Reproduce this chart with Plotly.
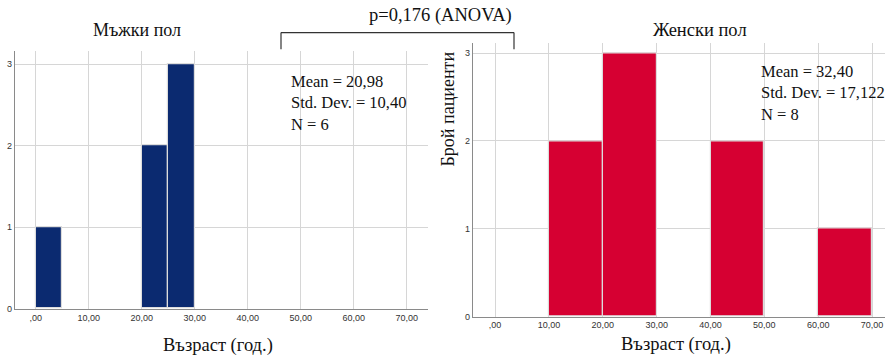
import plotly.graph_objects as go

# Age histograms by sex (bin start, bin width, counts)
male_bin_starts = [0, 20, 25]
male_bin_width = 5
male_counts = [1, 2, 3]

female_bin_starts = [10, 20, 40, 60]
female_bin_width = 10
female_counts = [2, 3, 2, 1]

x_tick_vals = [0, 10, 20, 30, 40, 50, 60, 70]
x_tick_text = [",00", "10,00", "20,00", "30,00", "40,00", "50,00", "60,00", "70,00"]
y_tick_vals = [0, 1, 2, 3]

male_stats = ["Mean = 20,98", "Std. Dev. = 10,40", "N = 6"]
female_stats = ["Mean = 32,40", "Std. Dev. = 17,122", "N = 8"]

W, H = 893, 361
NAVY = "#0b2a70"
CRIMSON = "#d60032"
SERIF = "Liberation Serif, Times New Roman, serif"
SANS = "Liberation Sans, Arial, sans-serif"


def px(x):
    return x / W


def py(y):
    return 1 - y / H


fig = go.Figure()

fig.add_trace(go.Bar(
    x=[s + male_bin_width / 2 for s in male_bin_starts],
    y=male_counts,
    width=male_bin_width,
    marker=dict(color=NAVY, line=dict(color="#dcdcdc", width=1.2)),
    xaxis="x", yaxis="y", showlegend=False,
))
fig.add_trace(go.Bar(
    x=[s + female_bin_width / 2 for s in female_bin_starts],
    y=female_counts,
    width=female_bin_width,
    marker=dict(color=CRIMSON, line=dict(color="#dcdcdc", width=1.2)),
    xaxis="x2", yaxis="y2", showlegend=False,
))

axis_common = dict(
    showgrid=True, gridcolor="#d6d6d6", gridwidth=1.2,
    showline=True, linecolor="#8a8a8a", linewidth=1.2,
    zeroline=False, ticks="", fixedrange=True,
)
x_common = dict(axis_common, tickvals=x_tick_vals, ticktext=x_tick_text,
                tickfont=dict(family=SANS, size=9, color="#333"))
y_common = dict(axis_common, tickvals=y_tick_vals,
                tickfont=dict(family=SANS, size=9, color="#333"))

fig.update_layout(
    width=W, height=H,
    margin=dict(l=0, r=0, t=0, b=0),
    paper_bgcolor="white", plot_bgcolor="white",
    bargap=0,
    xaxis=dict(x_common, domain=[px(15), px(428)], range=[-3.9, 74], anchor="y"),
    yaxis=dict(y_common, domain=[py(313), py(52)], range=[0, 3.16], anchor="x"),
    xaxis2=dict(x_common, domain=[px(473), px(885)], range=[-4.1, 72.4], anchor="y2"),
    yaxis2=dict(y_common, domain=[py(321), py(44)], range=[0, 3.11], anchor="x2"),
)

annotations = [
    dict(text="Мъжки пол", x=px(137), y=py(30), size=18),
    dict(text="Женски пол", x=px(700), y=py(30), size=18.5),
    dict(text="p=0,176 (ANOVA)", x=px(440), y=py(16), size=18.5),
    dict(text="Възраст (год.)", x=px(218), y=py(350), size=18.5),
    dict(text="Възраст (год.)", x=px(676), y=py(349), size=18.5),
]
for a in annotations:
    fig.add_annotation(text=a["text"], x=a["x"], y=a["y"], xref="paper", yref="paper",
                       xanchor="center", yanchor="middle", showarrow=False,
                       font=dict(family=SERIF, size=a["size"], color="#111"))

fig.add_annotation(text="Брой пациенти", x=px(448), y=py(111), xref="paper", yref="paper",
                   xanchor="center", yanchor="middle", showarrow=False, textangle=-90,
                   font=dict(family=SERIF, size=18, color="#111"))

for lines, x0, y0 in [(male_stats, 289, 71), (female_stats, 759, 61)]:
    fig.add_annotation(text="<br>".join(lines), x=px(x0), y=py(y0), xref="paper", yref="paper",
                       xanchor="left", yanchor="top", align="left", showarrow=False,
                       font=dict(family=SERIF, size=16.5, color="#111"))

# Significance bracket between the two panels
bracket = [(281, 50, 281, 33), (281, 33, 514, 33), (514, 33, 514, 50)]
for x0, y0, x1, y1 in bracket:
    fig.add_shape(type="line", xref="paper", yref="paper",
                  x0=px(x0), y0=py(y0), x1=px(x1), y1=py(y1),
                  line=dict(color="#333", width=1.2))

fig.write_html("out.html")
